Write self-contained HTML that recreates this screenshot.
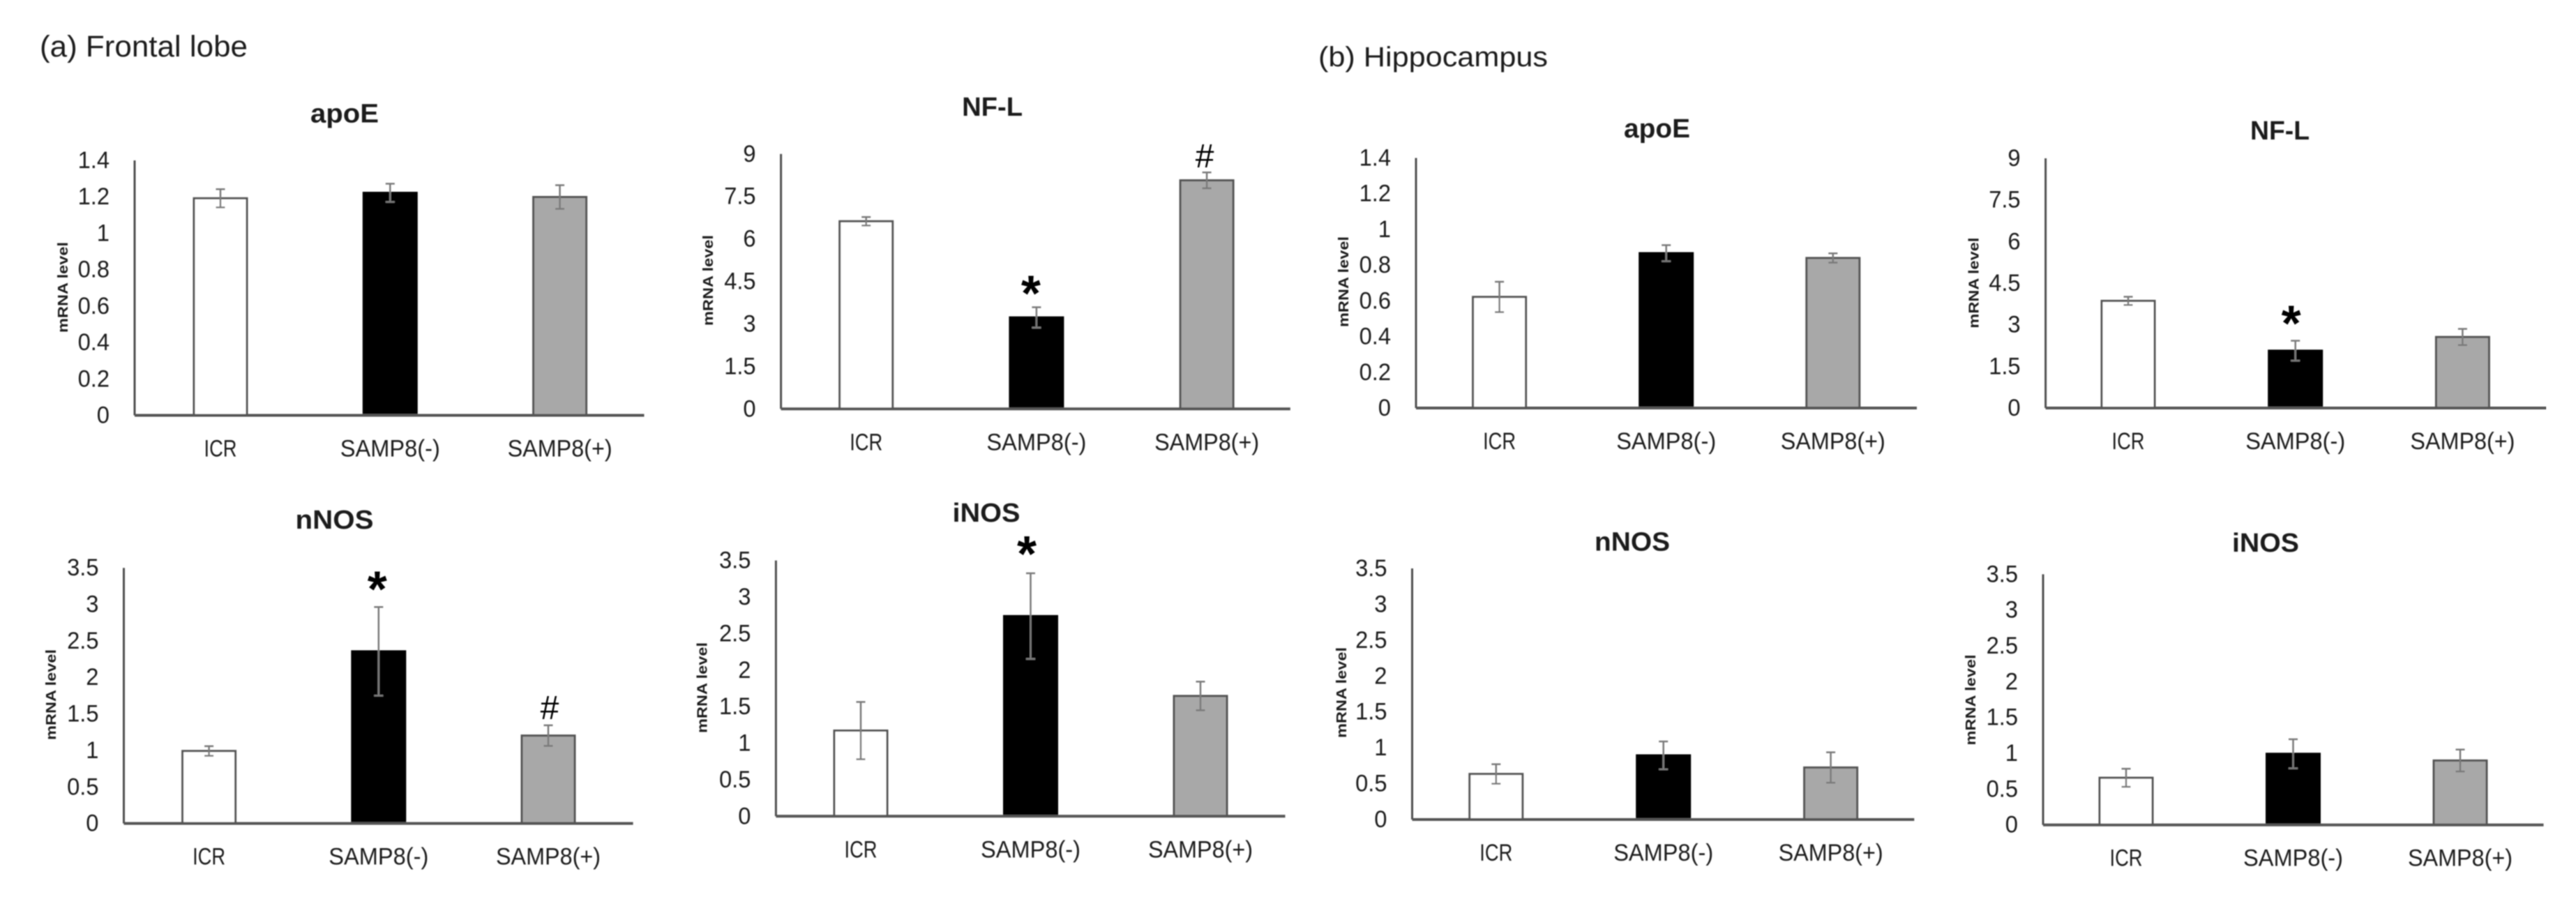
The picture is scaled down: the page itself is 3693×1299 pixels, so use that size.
<!DOCTYPE html>
<html lang="en">
<head>
<meta charset="utf-8">
<title>mRNA levels in frontal lobe and hippocampus</title>
<style>
  html, body { margin: 0; padding: 0; background: #fff; }
  body { width: 3693px; height: 1299px; overflow: hidden; }
  svg { display: block; }
  text { font-family: "Liberation Sans", sans-serif; fill: #1c1c1c; }
</style>
</head>
<body>
<svg id="chart" xmlns="http://www.w3.org/2000/svg" width="3693" height="1299" viewBox="0 0 3693 1299">
  <defs><filter id="soft" x="0" y="0" width="100%" height="100%"><feGaussianBlur stdDeviation="0.8"/></filter></defs>
  <rect width="3693" height="1299" fill="#fff"/>
  <g id="root" filter="url(#soft)">
    <text x="57" y="81" font-size="43" textLength="298" lengthAdjust="spacingAndGlyphs">(a) Frontal lobe</text>
    <text x="1890" y="95" font-size="40" textLength="329" lengthAdjust="spacingAndGlyphs">(b) Hippocampus</text>
  </g>
</svg>
<script>
// ---- data ----
const categories = ['ICR', 'SAMP8(-)', 'SAMP8(+)'];

const apoeTicks = ['0', '0.2', '0.4', '0.6', '0.8', '1', '1.2', '1.4'];
const nflTicks = ['0', '1.5', '3', '4.5', '6', '7.5', '9'];
const nosTicks = ['0', '0.5', '1', '1.5', '2', '2.5', '3', '3.5'];

const frontalApoeValues = [1.192, 1.222, 1.199];
const frontalApoeErrors = [0.05, 0.05, 0.065];
const frontalApoeMarks = ['', '', ''];

const frontalNflValues = [6.625, 3.23, 8.07];
const frontalNflErrors = [0.15, 0.36, 0.28];
const frontalNflMarks = ['', '*', '#'];

const frontalNnosValues = [0.992, 2.357, 1.203];
const frontalNnosErrors = [0.066, 0.607, 0.141];
const frontalNnosMarks = ['', '*', '#'];

const frontalInosValues = [1.172, 2.739, 1.646];
const frontalInosErrors = [0.392, 0.586, 0.196];
const frontalInosMarks = ['', '*', ''];

const hippoApoeValues = [0.622, 0.867, 0.84];
const hippoApoeErrors = [0.085, 0.045, 0.026];
const hippoApoeMarks = ['', '', ''];

const hippoNflValues = [3.862, 2.066, 2.56];
const hippoNflErrors = [0.148, 0.359, 0.292];
const hippoNflMarks = ['', '*', ''];

const hippoNnosValues = [0.635, 0.894, 0.725];
const hippoNnosErrors = [0.136, 0.194, 0.212];
const hippoNnosMarks = ['', '', ''];

const hippoInosValues = [0.658, 0.993, 0.899];
const hippoInosErrors = [0.126, 0.203, 0.153];
const hippoInosMarks = ['', '', ''];

// ---- panel definitions: data references plus layout ----
const panels = [
  { id: 'frontal-apoe', title: 'apoE', values: frontalApoeValues, errors: frontalApoeErrors, marks: frontalApoeMarks, ticks: apoeTicks,
    left: 193, top: 230, bottom: 595.5, right: 923.5, start: 316, step: 243.3,
    titleX: 494, titleY: 175.6, titleW: 98, labelX: 97, labelY: 412, starGap: 34, hashGap: 25, starDx: -6, hashDx: 0 },
  { id: 'frontal-nfl', title: 'NF-L', values: frontalNflValues, errors: frontalNflErrors, marks: frontalNflMarks, ticks: nflTicks,
    left: 1119.6, top: 220.8, bottom: 586.3, right: 1849.8, start: 1241.7, step: 244.2,
    titleX: 1422.6, titleY: 166, titleW: 87, labelX: 1022, labelY: 402, starGap: 29, hashGap: 24, starDx: -8, hashDx: -3 },
  { id: 'frontal-nnos', title: 'nNOS', values: frontalNnosValues, errors: frontalNnosErrors, marks: frontalNnosMarks, ticks: nosTicks,
    left: 177.5, top: 814.2, bottom: 1180.6, right: 907.6, start: 299.6, step: 243.2,
    titleX: 479.5, titleY: 757.8, titleW: 112, labelX: 80, labelY: 996, starGap: 35, hashGap: 26, starDx: -2, hashDx: 2 },
  { id: 'frontal-inos', title: 'iNOS', values: frontalInosValues, errors: frontalInosErrors, marks: frontalInosMarks, ticks: nosTicks,
    left: 1112.4, top: 803.6, bottom: 1170.3, right: 1842.5, start: 1234, step: 243.5,
    titleX: 1414, titleY: 748, titleW: 97, labelX: 1013.6, labelY: 986, starGap: 37, hashGap: 25, starDx: -5.5, hashDx: 0 },
  { id: 'hippo-apoe', title: 'apoE', values: hippoApoeValues, errors: hippoApoeErrors, marks: hippoApoeMarks, ticks: apoeTicks,
    left: 2030, top: 226.5, bottom: 585, right: 2748, start: 2149.6, step: 239.1,
    titleX: 2375.5, titleY: 197, titleW: 95, labelX: 1933, labelY: 404, starGap: 34, hashGap: 25, starDx: -6, hashDx: 0 },
  { id: 'hippo-nfl', title: 'NF-L', values: hippoNflValues, errors: hippoNflErrors, marks: hippoNflMarks, ticks: nflTicks,
    left: 2932.6, top: 227, bottom: 585, right: 3650.5, start: 3051, step: 239.7,
    titleX: 3268.5, titleY: 200, titleW: 85, labelX: 2836.5, labelY: 405.6, starGap: 34, hashGap: 25, starDx: -6, hashDx: 0 },
  { id: 'hippo-nnos', title: 'nNOS', values: hippoNnosValues, errors: hippoNnosErrors, marks: hippoNnosMarks, ticks: nosTicks,
    left: 2024.5, top: 815, bottom: 1175, right: 2744.3, start: 2144.8, step: 239.9,
    titleX: 2340, titleY: 789.4, titleW: 108, labelX: 1930, labelY: 993, starGap: 34, hashGap: 25, starDx: -6, hashDx: 0 },
  { id: 'hippo-inos', title: 'iNOS', values: hippoInosValues, errors: hippoInosErrors, marks: hippoInosMarks, ticks: nosTicks,
    left: 2929, top: 823.4, bottom: 1182.7, right: 3646.5, start: 3048, step: 239.5,
    titleX: 3248, titleY: 791, titleW: 96, labelX: 2832, labelY: 1003.5, starGap: 34, hashGap: 25, starDx: -6, hashDx: 0 }
];

const barFills = ['#ffffff', '#000000', '#a8a8a8'];
const barStrokes = ['#555555', '#000000', '#555555'];
const categoryWidths = [47, 143, 150];
const BAR_WIDTH = 76;
const NS = 'http://www.w3.org/2000/svg';
const root = document.getElementById('root');

function svgEl(tag, attrs, parent, text) {
  const el = document.createElementNS(NS, tag);
  for (const key in attrs) el.setAttribute(key, attrs[key]);
  if (text !== undefined) el.textContent = text;
  parent.appendChild(el);
  return el;
}

function drawPanel(p) {
  const maxTick = parseFloat(p.ticks[p.ticks.length - 1]);
  const yScale = function (v) { return p.bottom - (v / maxTick) * (p.bottom - p.top); };
  const xScale = function (i) { return p.start + i * p.step; };

  const g = svgEl('g', {}, root);
  
  

  const title = svgEl('text', { x: p.titleX, y: p.titleY, 'font-size': 38, 'font-weight': 'bold', 'text-anchor': 'middle', textLength: p.titleW, lengthAdjust: 'spacingAndGlyphs' }, g, p.title);
  
  

  const yTitle = svgEl('text', { x: 0, y: 0, 'font-size': 20, 'font-weight': 'bold', 'text-anchor': 'middle', textLength: 130, lengthAdjust: 'spacingAndGlyphs', transform: 'translate(' + p.labelX + ' ' + p.labelY + ') rotate(-90)' }, g, 'mRNA level');
  
  

  p.ticks.forEach(function (t) {
    const tickLabel = svgEl('text', { x: p.left - 36, y: yScale(parseFloat(t)) + 11, 'font-size': 34, 'text-anchor': 'end' }, g, t);
    
    
    tickLabel.setAttribute('textLength', (tickLabel.getComputedTextLength() * 0.96).toFixed(1));
    tickLabel.setAttribute('lengthAdjust', 'spacingAndGlyphs');
  });

  p.values.forEach(function (v, i) {
    const cx = xScale(i);
    const bar = svgEl('rect', { x: cx - BAR_WIDTH / 2, y: yScale(v), width: BAR_WIDTH, height: p.bottom - yScale(v), fill: barFills[i], stroke: barStrokes[i], 'stroke-width': 3 }, g);
    
    
  });

  const yAxis = svgEl('line', { x1: p.left, y1: p.top, x2: p.left, y2: p.bottom, stroke: '#505050', 'stroke-width': 3 }, g);
  
  

  const xAxis = svgEl('line', { x1: p.left, y1: p.bottom, x2: p.right, y2: p.bottom, stroke: '#555555', 'stroke-width': 4 }, g);
  
  

  p.errors.forEach(function (e, i) {
    const cx = xScale(i);
    const hi = yScale(p.values[i] + e);
    const lo = yScale(p.values[i] - e);
    const eg = svgEl('g', { stroke: '#7a7a7a', 'stroke-width': 2.5, fill: 'none' }, g);
    
    
    svgEl('line', { x1: cx, y1: hi, x2: cx, y2: lo }, eg);
    svgEl('line', { x1: cx - 6.5, y1: hi, x2: cx + 6.5, y2: hi }, eg);
    svgEl('line', { x1: cx - 6.5, y1: lo, x2: cx + 6.5, y2: lo }, eg);
  });

  p.marks.forEach(function (m, i) {
    if (!m) return;
    const top = yScale(p.values[i] + p.errors[i]);
    const isStar = m === '*';
    const yPos = isStar ? top - p.starGap + 34 : top - p.hashGap + 17;
    const xPos = xScale(i) + (isStar ? p.starDx : p.hashDx);
    const mark = svgEl('text', { x: xPos, y: yPos, 'font-size': isStar ? 72 : 48, 'font-weight': isStar ? 'bold' : 'normal', 'text-anchor': 'middle', fill: '#000', style: 'fill:#000' }, g, m);
    
    
  });

  categories.forEach(function (c, i) {
    const label = svgEl('text', { x: xScale(i), y: p.bottom + 59, 'font-size': 34, 'text-anchor': 'middle', textLength: categoryWidths[i], lengthAdjust: 'spacingAndGlyphs' }, g, c);
    
    
  });
}

panels.forEach(drawPanel);
</script>
</body>
</html>
